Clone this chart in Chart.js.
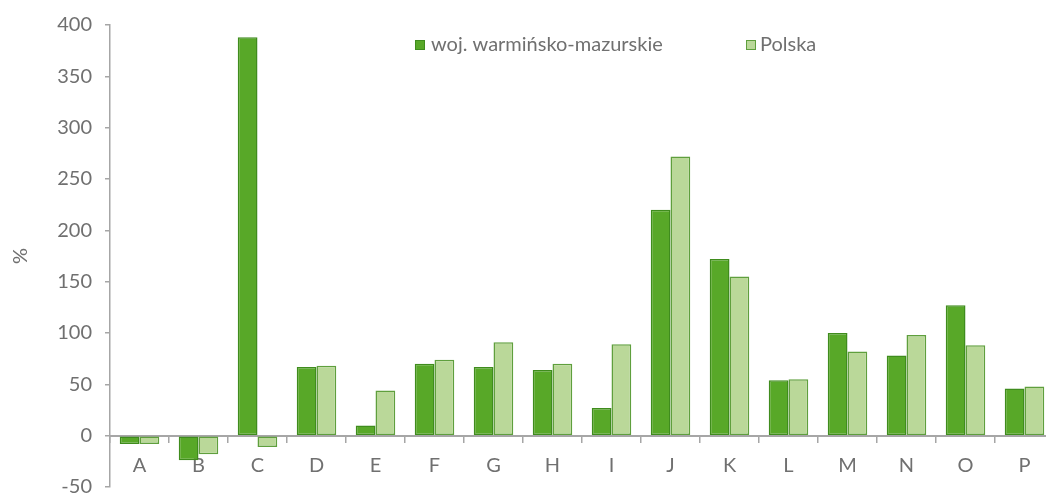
<!DOCTYPE html>
<html>
<head>
<meta charset="utf-8">
<script src="https://cdn.jsdelivr.net/npm/chart.js@4/dist/chart.umd.min.js"></script>
<style>
  html, body { margin: 0; padding: 0; background: #fff; overflow: hidden; }
  #wrap { width: 1046px; height: 497px; overflow: hidden; }
</style>
</head>
<body>
<div id="wrap"><canvas id="chart" width="1054" height="512"></canvas></div>
<script>
const categories = ['A', 'B', 'C', 'D', 'E', 'F', 'G', 'H', 'I', 'J', 'K', 'L', 'M', 'N', 'O', 'P'];
const warminskoMazurskie = [-8, -24, 388, 67, 10, 70, 67, 64, 27, 220, 172, 54, 100, 78, 127, 46];
const polska = [-8, -18, -11, 68, 44, 74, 91, 70, 89, 272, 155, 55, 82, 98, 88, 48];
const seriesLabels = ['woj. warmińsko-mazurskie', 'Polska'];

const grey = '#a6a6a6';
const textGrey = '#707070';
const font = 'Lato';

// legend drawn over the plot, like in the original
const legendItems = [{ x: 415, textX: 431 }, { x: 746, textX: 760 }];
const overlayLegend = {
    id: 'overlayLegend',
    afterDraw(chart) {
        const ctx = chart.ctx;
        ctx.save();
        ctx.font = '20px ' + font;
        ctx.textBaseline = 'middle';
        chart.data.datasets.forEach((ds, i) => {
            const it = legendItems[i];
            ctx.fillStyle = ds.backgroundColor;
            ctx.strokeStyle = ds.borderColor;
            ctx.lineWidth = 1;
            ctx.fillRect(it.x, 40, 10, 10);
            ctx.strokeRect(it.x + 0.5, 40.5, 9, 9);
            ctx.fillStyle = textGrey;
            ctx.fillText(ds.label, it.textX, 45);
        });
        ctx.restore();
    }
};

let ctx = document.getElementById('chart').getContext('2d');
let chart = new Chart(ctx, {
    type: 'bar',
    data: {
        labels: categories,
        datasets: [{
            label: seriesLabels[0],
            data: warminskoMazurskie,
            backgroundColor: '#58a828',
            borderColor: '#3f8c1d',
            borderWidth: 1.5,
            borderSkipped: false
        }, {
            label: seriesLabels[1],
            data: polska,
            backgroundColor: '#bad899',
            borderColor: '#5f9f3d',
            borderWidth: 1.5,
            borderSkipped: false
        }]
    },
    options: {
        responsive: false,
        animation: false,
        layout: { padding: { top: 24, right: 0, bottom: 0, left: 0 } },
        datasets: { bar: { categoryPercentage: 0.67, barPercentage: 1.0 } },
        plugins: {
            legend: { display: false },
            tooltip: { enabled: false }
        },
        scales: {
            x: {
                position: { y: 0 },
                grid: { drawOnChartArea: false, drawTicks: true, tickLength: 6, color: grey, lineWidth: 1.5 },
                border: { display: true, color: grey, width: 2 },
                ticks: { color: textGrey, font: { family: font, size: 20 }, padding: 12 },
                afterFit(scale) { scale.height = 0; }
            },
            y: {
                min: -50,
                max: 400,
                ticks: { stepSize: 50, color: textGrey, font: { family: font, size: 20 }, padding: 13 },
                grid: { drawOnChartArea: false, drawTicks: true, tickLength: 5, color: grey, lineWidth: 1.5 },
                border: { display: true, color: grey, width: 1.5 },
                title: { display: true, text: '%', color: textGrey, font: { family: font, size: 20 }, padding: { top: 9, bottom: 0 } },
                afterFit(scale) { scale.width = 110; }
            }
        }
    },
    plugins: [overlayLegend]
});
</script>
</body>
</html>
